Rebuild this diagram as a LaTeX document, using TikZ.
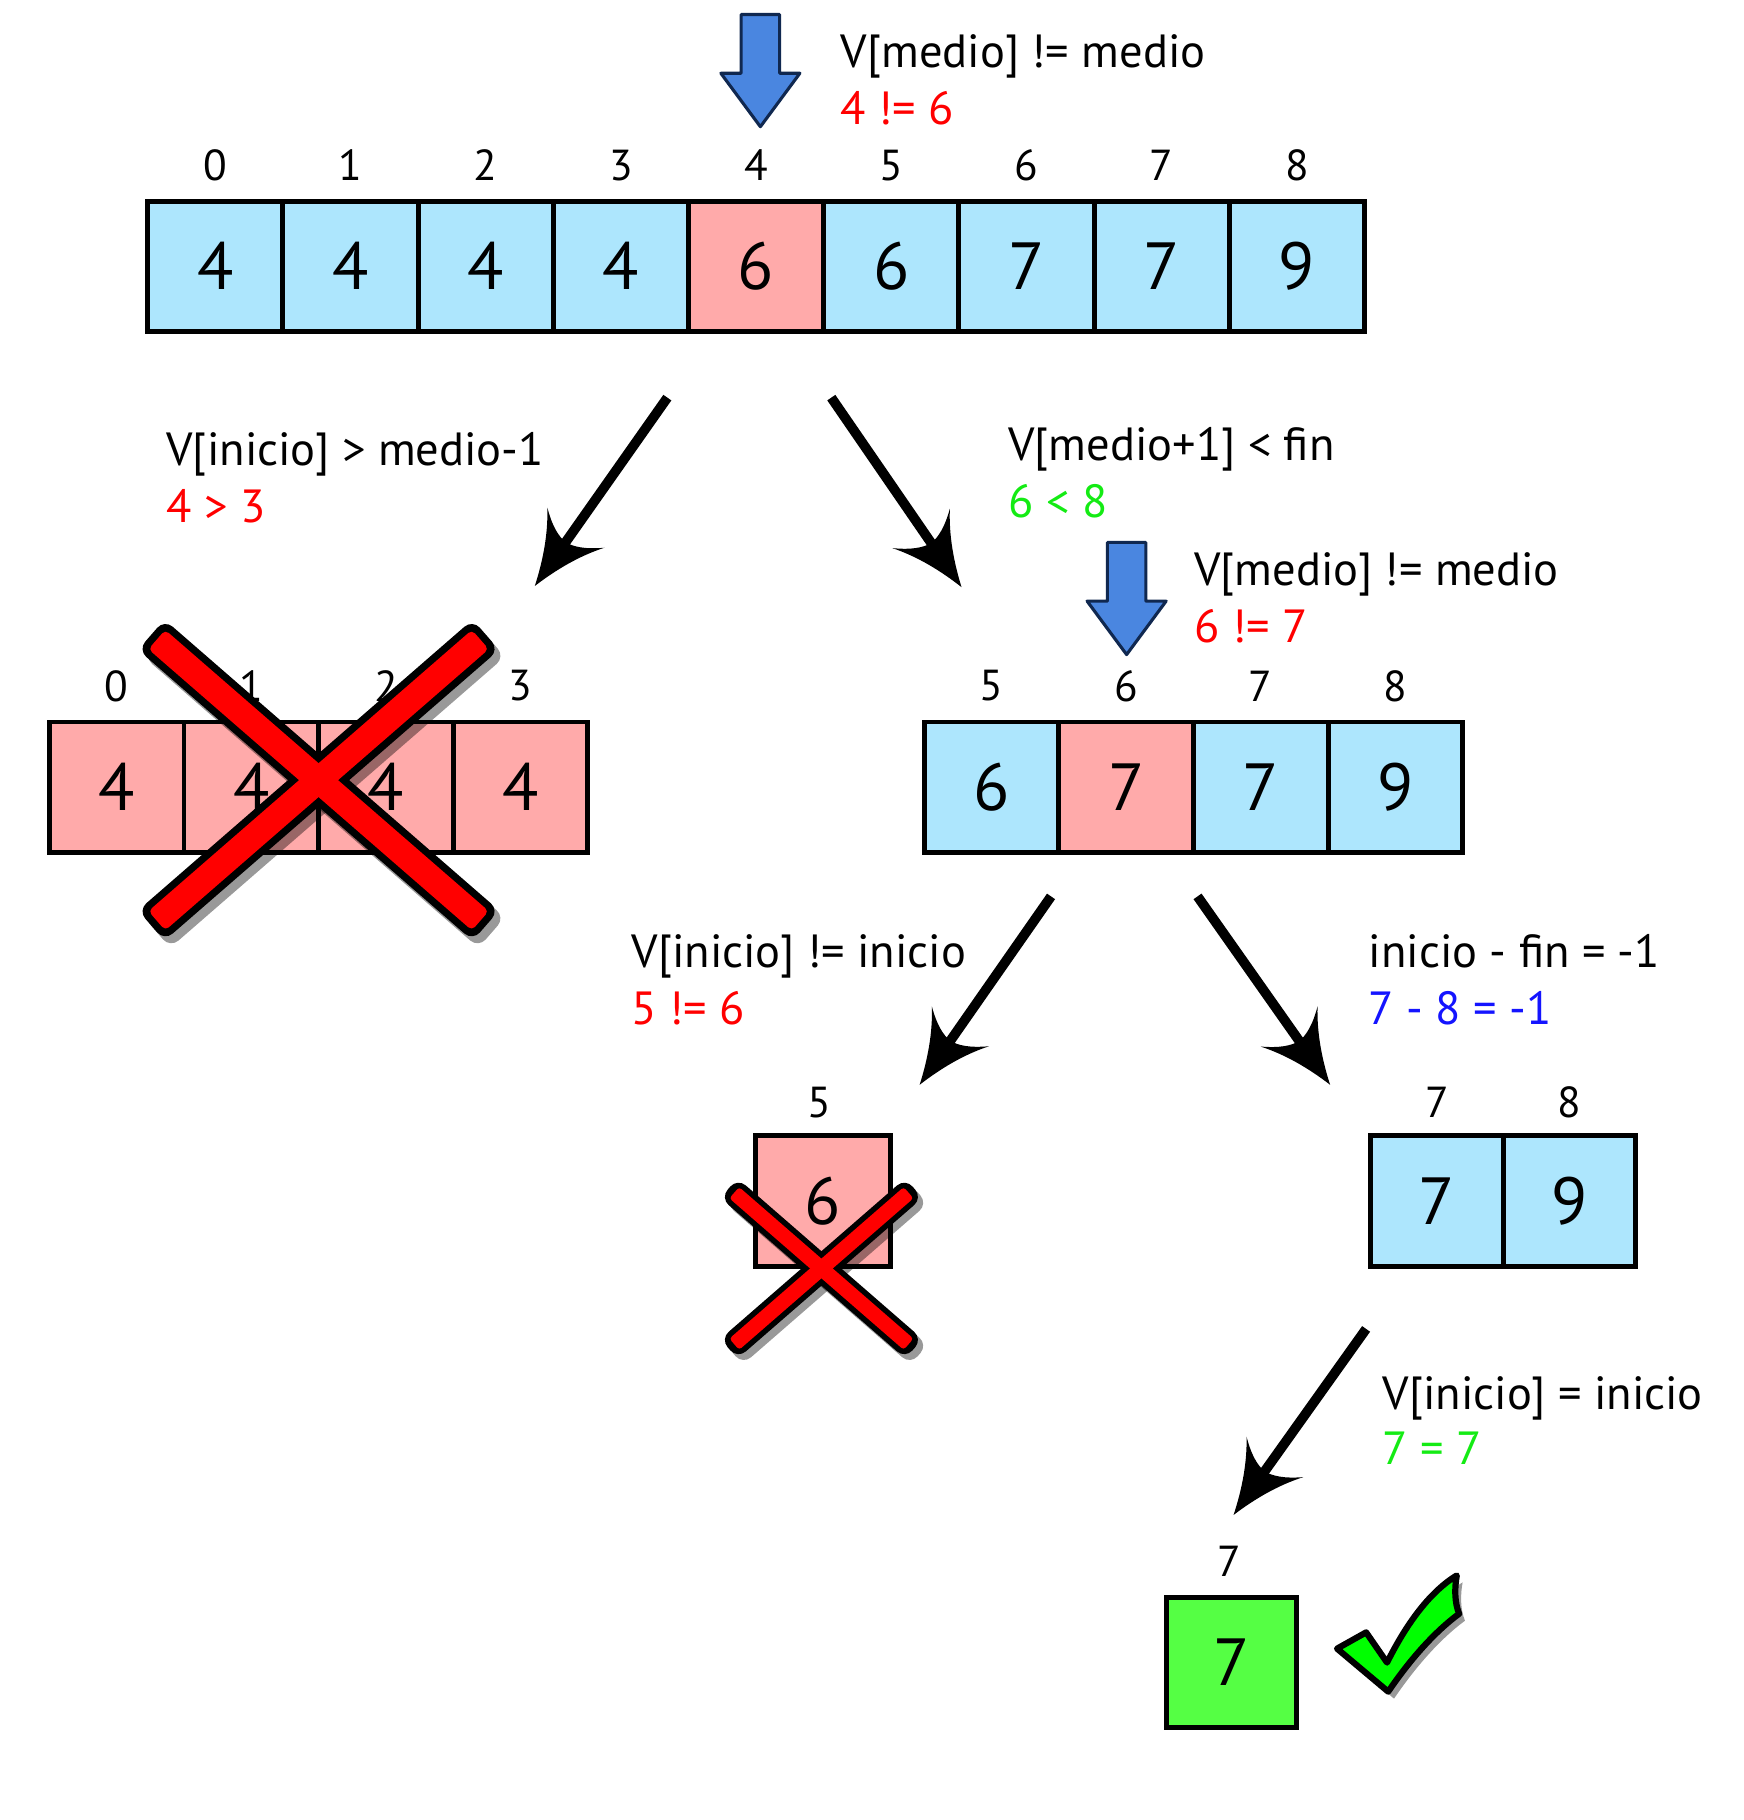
\documentclass[tikz,border=0pt]{standalone}
\usepackage{fontspec}
\setmainfont{PT Sans}
\usetikzlibrary{calc}

\definecolor{cellblue}{RGB}{173,230,253}
\definecolor{cellpink}{RGB}{255,170,170}
\definecolor{cellgreen}{RGB}{85,255,68}
\definecolor{okgreen}{RGB}{20,235,20}
\definecolor{txtblue}{RGB}{20,20,255}
\definecolor{arrowblue}{RGB}{74,134,224}
\definecolor{arrowedge}{RGB}{16,40,80}
\definecolor{crossred}{RGB}{255,0,0}

% curved arrow head of the connectors
\pgfdeclarearrow{
  name = Swoosh,
  setup code = {
    \pgfarrowssettipend{0pt}
    \pgfarrowssetlineend{-32pt}
    \pgfarrowssetbackend{-46pt}
    \pgfarrowsupperhullpoint{-46pt}{22.5pt}
    \pgfarrowsupperhullpoint{0pt}{0pt}
  },
  drawing code = {
    \pgfpathmoveto{\pgfpointorigin}
    \pgfpathcurveto{\pgfpoint{-16pt}{5pt}}{\pgfpoint{-32pt}{12pt}}{\pgfpoint{-46pt}{22.5pt}}
    \pgfpathcurveto{\pgfpoint{-38pt}{13pt}}{\pgfpoint{-35pt}{6pt}}{\pgfpoint{-34.5pt}{0pt}}
    \pgfpathcurveto{\pgfpoint{-35pt}{-6pt}}{\pgfpoint{-38pt}{-13pt}}{\pgfpoint{-46pt}{-22.5pt}}
    \pgfpathcurveto{\pgfpoint{-32pt}{-12pt}}{\pgfpoint{-16pt}{-5pt}}{\pgfpointorigin}
    \pgfpathclose
    \pgfusepathqfill
  }
}

\def\tickpath{(1150,1418) -- (1175,1404) -- (1193,1430) .. controls (1210,1396) and (1230,1369) .. (1253,1355) .. controls (1251,1366) and (1251,1378) .. (1255,1388) .. controls (1232,1405) and (1211,1430) .. (1194,1455) -- cycle}

\tikzset{
  cell/.style={draw, line width=3.2pt, minimum width=86.8pt, minimum height=84pt, inner sep=0pt, font=\fontsize{43}{43}\selectfont},
  idx/.style={inner sep=0pt, font=\fontsize{28}{28}\selectfont},
  caption/.style={anchor=base west, inner sep=0pt, font=\fontsize{30}{30}\selectfont},
  conn/.style={line width=6.3pt, -Swoosh},
  xout/.style={fill=black, rounded corners=7pt, inner sep=0pt},
  xin/.style={fill=crossred, rounded corners=3pt, inner sep=0pt},
  xshade/.style={fill=black, opacity=0.4, rounded corners=7pt, inner sep=0pt},
  pics/downarrow/.style={code={
    \draw[fill=arrowblue, draw=arrowedge, line width=2pt, line join=round]
      (0,0) -- (-34,46) -- (-16.5,46) -- (-16.5,96.5) -- (16.5,96.5) -- (16.5,46) -- (34,46) -- cycle;
  }}
}

\begin{document}
\begin{tikzpicture}[x=0.75pt,y=0.75pt,yscale=-1,xscale=1]
        \useasboundingbox (0,0) rectangle (1500,1565.4);

        %Shape: Array [id:top]
        \foreach \v/\c [count=\i from 0] in {4/cellblue,4/cellblue,4/cellblue,4/cellblue,6/cellpink,6/cellblue,7/cellblue,7/cellblue,9/cellblue}{
          \node[cell, fill=\c, minimum width=87.2pt] (a\i) at ({127+116.3*(\i+0.5)},229) {\v};
          \node[idx] (ia\i) at ({127+116.3*(\i+0.5)},142) {\i};
        }
        %Shape: Array [id:left]
        \foreach \i in {0,...,3}{
          \node[cell, fill=cellpink] (l\i) at ({42.5+115.75*(\i+0.5)},677) {4};
          \node[idx] (il\i) at ({42.5+115.75*(\i+0.5)},590) {\i};
        }
        %Shape: Array [id:right]
        \foreach \v/\c/\k [count=\i from 0] in {6/cellblue/5,7/cellpink/6,7/cellblue/7,9/cellblue/8}{
          \node[cell, fill=\c] (r\k) at ({795+115.75*(\i+0.5)},677) {\v};
          \node[idx] (ir\k) at ({795+115.75*(\i+0.5)},590) {\k};
        }
        %Shape: Array [id:single]
        \node[cell, fill=cellpink] (s5) at (708,1033) {6};
        \node[idx] (is5) at (705,948) {5};
        %Shape: Array [id:pair]
        \foreach \v/\k [count=\i from 0] in {7/7,9/8}{
          \node[cell, fill=cellblue, minimum width=85.5pt] (p\k) at ({1179+114*(\i+0.5)},1033) {\v};
          \node[idx] (ip\k) at ({1179+114*(\i+0.5)},948) {\k};
        }
        %Shape: Array [id:found]
        \node[cell, fill=cellgreen, minimum width=84pt] (g7) at (1059,1430) {7};
        \node[idx] (ig7) at (1057,1343) {7};

        %Blue Arrows
        \pic (m1) at (654,109) {downarrow};
        \pic (m2) at (969,563) {downarrow};

        %Straight Lines
        \coordinate (d1s) at (574,342);  \coordinate (d1e) at (460,504);
        \coordinate (d2s) at (715,342);  \coordinate (d2e) at (827,505);
        \coordinate (d3s) at (904,771);  \coordinate (d3e) at (791,933);
        \coordinate (d4s) at (1030,771); \coordinate (d4e) at (1144,933);
        \coordinate (d5s) at (1175,1143); \coordinate (d5e) at (1061,1303);
        \foreach \n in {1,...,5}{
          \draw[conn] (d\n s) -- (d\n e);
        }

        %Shape: Cross [id:big]
        \foreach \a [count=\j] in {41,-41}{
          \node[xshade, minimum width=286pt, minimum height=25.9pt, rotate=\a] (xs\j) at (279,677) {};
        }
        \foreach \a [count=\j] in {41,-41}{
          \node[xout, minimum width=286pt, minimum height=25.9pt, rotate=\a] (xo\j) at (274,671) {};
        }
        \foreach \a [count=\j] in {41,-41}{
          \node[xin, minimum width=276.5pt, minimum height=16.5pt, rotate=\a] (xi\j) at (274,671) {};
        }
        %Shape: Cross [id:small]
        \foreach \a [count=\j] in {41,-41}{
          \node[xshade, minimum width=158pt, minimum height=16.8pt, rotate=\a] (ys\j) at (711,1096) {};
        }
        \foreach \a [count=\j] in {41,-41}{
          \node[xout, minimum width=158pt, minimum height=16.8pt, rotate=\a] (yo\j) at (706.5,1091) {};
        }
        \foreach \a [count=\j] in {41,-41}{
          \node[xin, rounded corners=2pt, minimum width=149pt, minimum height=9.6pt, rotate=\a] (yi\j) at (706.5,1091) {};
        }

        %Shape: Tick
        \fill[black, opacity=0.4, shift={(5,6)}] \tickpath;
        \draw[fill=green, line width=4pt, line join=round] \tickpath;

        % Text Node
        \node[caption] (c1) at (723,58) {V[medio] != medio};
        \node[caption, text=crossred] (v1) at (723,107) {4 != 6};
        % Text Node
        \node[caption] (c2) at (143,400) {V[inicio] > medio-1};
        \node[caption, text=crossred] (v2) at (143,449) {4 > 3};
        % Text Node
        \node[caption] (c3) at (867,396) {V[medio+1] < fin};
        \node[caption, text=okgreen] (v3) at (867,445) {6 < 8};
        % Text Node
        \node[caption] (c4) at (1027,504) {V[medio] != medio};
        \node[caption, text=crossred] (v4) at (1027,553) {6 != 7};
        % Text Node
        \node[caption] (c5) at (543,832) {V[inicio] != inicio};
        \node[caption, text=crossred] (v5) at (543,881) {5 != 6};
        % Text Node
        \node[caption] (c6) at (1177,832) {inicio - fin = -1};
        \node[caption, text=txtblue] (v6) at (1177,881) {7 - 8 = -1};
        % Text Node
        \node[caption] (c7) at (1189,1212) {V[inicio] = inicio};
        \node[caption, text=okgreen] (v7) at (1189,1260) {7 = 7};

\end{tikzpicture}
\end{document}
